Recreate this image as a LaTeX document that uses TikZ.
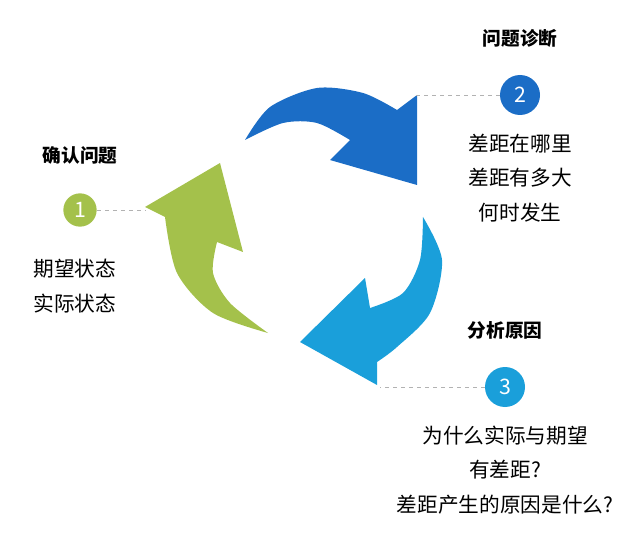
\documentclass[tikz,border=0pt]{standalone}
\usepackage{fontspec}
\setmainfont{Noto Sans CJK SC}
\usetikzlibrary{positioning}
\definecolor{cgreen}{HTML}{A4C14B}
\definecolor{cdark}{HTML}{1B6DC6}
\definecolor{clight}{HTML}{1A9FDA}
\begin{document}
\begin{tikzpicture}[x=0.75pt,y=-0.75pt]
  \tikzstyle{num}=[circle, minimum size=38pt, inner sep=0pt, text=white, font=\fontsize{16}{16}\selectfont]
  \tikzstyle{head}=[font=\fontsize{14}{16}\selectfont\bfseries]
  \tikzstyle{txt}=[font=\fontsize{15.5}{26}\selectfont, align=center]
  \tikzstyle{link}=[draw=gray!60, dashed, thin]

  \useasboundingbox (0,0) rectangle (640,542);

  % arrows
  \fill[cdark] plot[smooth] coordinates {(245,140) (270,107) (317,88) (363,93) (397,110)}
    -- (417,95) -- (417,185) -- (330,160) -- (350,140)
    -- plot[smooth] coordinates {(350,140) (317,123) (283,123) (245,140)} -- cycle;
  \fill[cgreen] plot[smooth] coordinates {(268,333) (213,313) (177,273) (165,217)}
    -- (145,207) -- (220,163) -- (243,252) -- (217,242)
    -- plot[smooth] coordinates {(217,242) (213,273) (230,303) (268,333)} -- cycle;
  \fill[clight] plot[smooth] coordinates {(423,217) (442,260) (430,313) (397,347) (377,362)}
    -- (377,385) -- (300,342) -- (365,278) -- (370,308)
    -- plot[smooth] coordinates {(370,308) (403,293) (420,260) (423,217)} -- cycle;

  % step 1
  \node[num, fill=cgreen, minimum size=25pt] (n1) at (80,210) {1};
  \node[head] (h1) at (80,155) {确认问题};
  \node[txt] (t1) at (75,286) {期望状态\\实际状态};
  \coordinate (e1) at (145,210);
  \path[link] (n1) -- (e1);

  % step 2
  \node[num, fill=cdark, minimum size=30pt] (n2) at (520,95) {2};
  \node[head] (h2) at (520,38) {问题诊断};
  \node[txt] (t2) at (520,178) {差距在哪里\\差距有多大\\何时发生};
  \coordinate (e2) at (415,95);
  \path[link] (n2) -- (e2);

  % step 3
  \node[num, fill=clight, minimum size=30pt] (n3) at (505,387) {3};
  \node[head] (h3) at (505,330) {分析原因};
  \node[txt] (t3) at (505,470) {为什么实际与期望\\有差距?\\差距产生的原因是什么?};
  \coordinate (e3) at (380,387);
  \path[link] (n3) -- (e3);
\end{tikzpicture}
\end{document}
